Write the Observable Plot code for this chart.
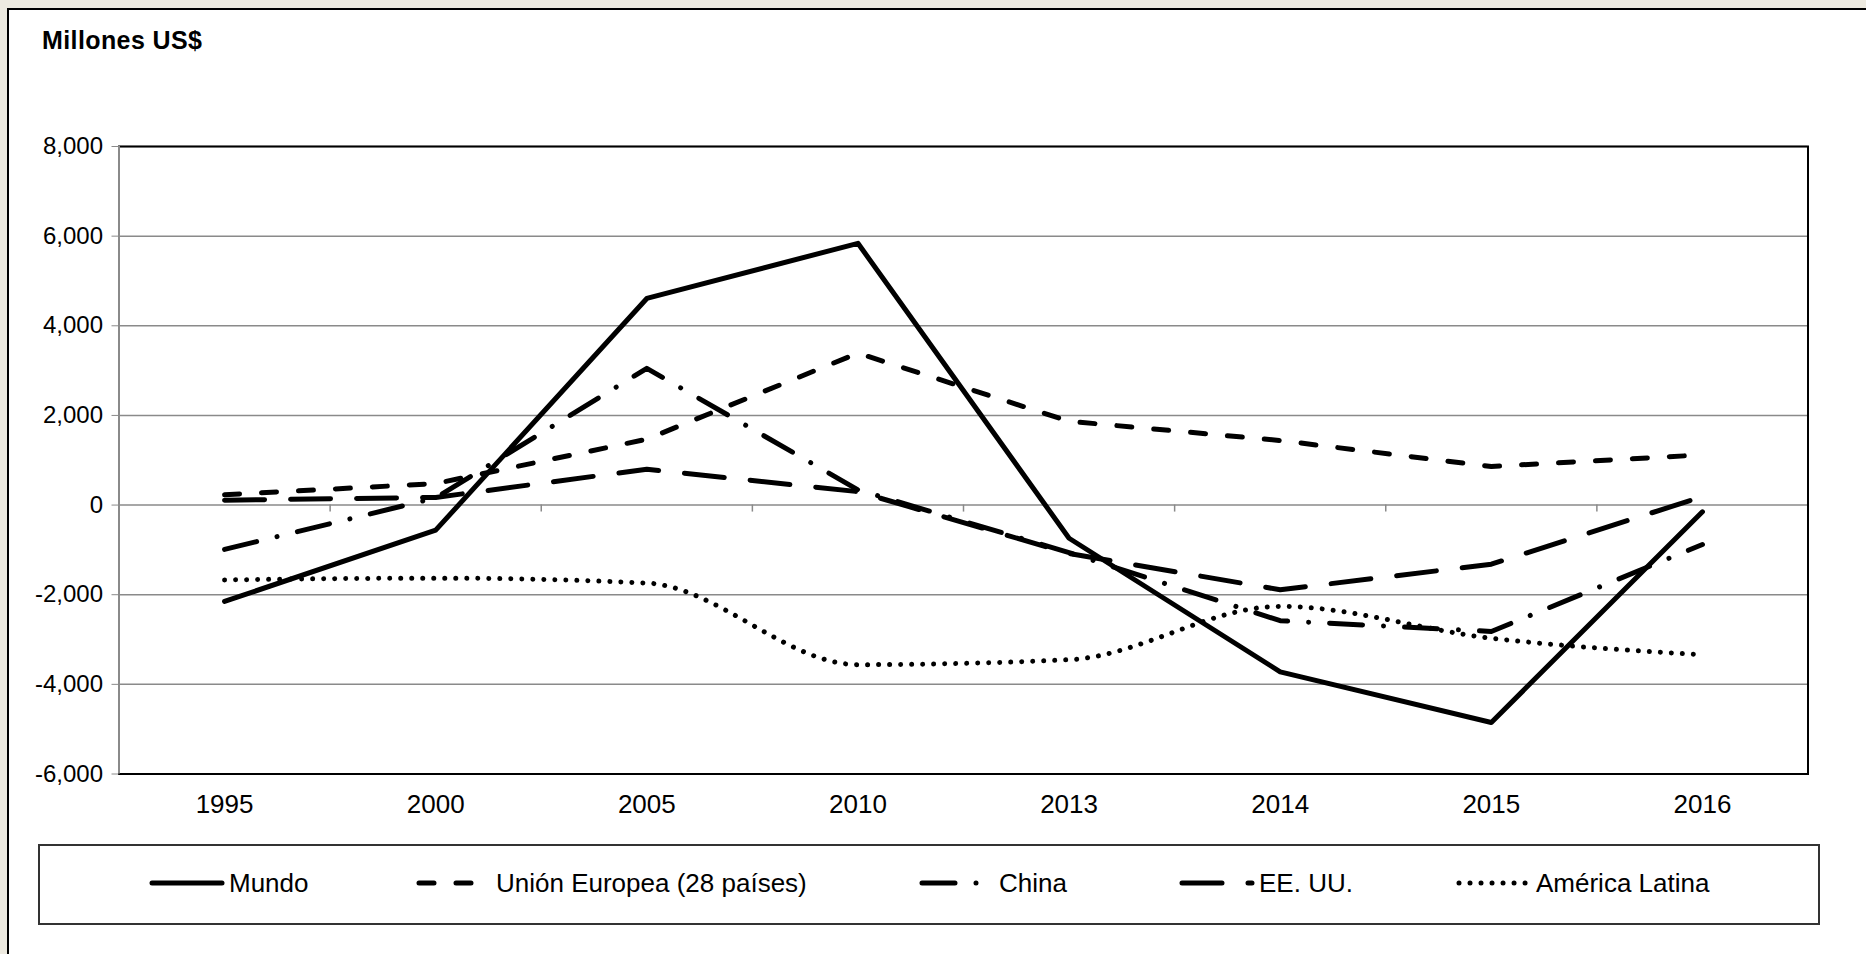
<!DOCTYPE html>
<html><head><meta charset="utf-8">
<script src="https://cdn.jsdelivr.net/npm/d3@7"></script>
<script src="https://cdn.jsdelivr.net/npm/@observablehq/plot@0.6"></script>
<style>
html,body{margin:0;padding:0;background:#EDEAE0;width:1866px;height:954px;overflow:hidden;font-family:"Liberation Sans",Arial,sans-serif;}
#page{position:absolute;left:7px;top:8px;width:1900px;height:1000px;background:#fff;border:2px solid #000;}
#title{position:absolute;left:42px;top:28px;font-size:25px;font-weight:bold;letter-spacing:0.4px;line-height:25px;color:#000;white-space:nowrap}
#chart{position:absolute;left:0;top:110px}
#legendbox{position:absolute;left:38px;top:844px;width:1778px;height:77px;border:2px solid #333;}
#legend{position:absolute;left:0;top:830px}
</style></head><body>
<div id="page"></div>
<div id="title">Millones US$</div>
<div id="chart"></div>
<div id="legendbox"></div>
<svg id="legend" width="1866" height="110"></svg>
<script>
// ---- data ----
const years = ["1995", "2000", "2005", "2010", "2013", "2014", "2015", "2016"];
const seriesNames = ["Mundo", "Unión Europea (28 países)", "China", "EE. UU.", "América Latina"];
const mundo = [-2150, -560, 4610, 5840, -740, -3720, -4850, -150];
const ue = [230, 480, 1470, 3390, 1870, 1440, 860, 1120];
const china = [-990, 160, 3050, 340, -1060, -2580, -2820, -880];
const eeuu = [110, 170, 800, 300, -1080, -1890, -1320, 190];
const americaLatina = [-1670, -1630, -1740, -3560, -3450, -2260, -2970, -3340];
const yTicks = [-6000, -4000, -2000, 0, 2000, 4000, 6000, 8000];

// ---- styles ----
const seriesValues = [mundo, ue, china, eeuu, americaLatina];
const seriesStyle = [
  {dash: null, curve: "linear"},
  {dash: "15,22", curve: "linear"},
  {dash: "33,21,0.01,21", curve: "linear"},
  {dash: "40,26", curve: "linear"},
  {dash: "0.01,11", curve: "monotone-x"}
];
const rows = seriesNames.flatMap((name, s) =>
  years.map((yr, i) => ({series: name, s, i, year: yr, value: seriesValues[s][i]})));

const W = 1866, H = 720, mL = 118.5, mR = 58.5, mT = 36, mB = 56.5;
const pxPerUnit = (H - mT - mB) / (yTicks[yTicks.length - 1] - yTicks[0]);
const tickLen = 7 / pxPerUnit;
const bounds = d3.range(years.length + 1).map(k => k - 0.5);
const gridColor = "#8a8a8a";

const lineMarks = seriesNames.map((name, s) => Plot.line(rows.filter(r => r.s === s), {
  x: "i", y: "value", stroke: "#000", strokeWidth: 5,
  strokeDasharray: seriesStyle[s].dash || undefined,
  strokeLinecap: "round", strokeLinejoin: "round",
  curve: seriesStyle[s].curve
}));

const chart = Plot.plot({
  width: W, height: H,
  marginLeft: mL, marginRight: mR, marginTop: mT, marginBottom: mB,
  style: {fontFamily: "'Liberation Sans', Arial, sans-serif", background: "transparent", color: "#000", overflow: "visible"},
  x: {type: "linear", domain: [-0.5, years.length - 0.5]},
  y: {type: "linear", domain: [yTicks[0], yTicks[yTicks.length - 1]]},
  marks: [
    Plot.ruleY(yTicks, {stroke: gridColor, strokeWidth: 1.5}),
    Plot.ruleX(bounds, {y1: 0, y2: -tickLen, stroke: gridColor, strokeWidth: 1.5}),
    Plot.frame({stroke: "#000", strokeWidth: 2}),
    Plot.ruleX([-0.5], {stroke: gridColor, strokeWidth: 2}),
    Plot.axisY({ticks: yTicks, tickFormat: d => d.toLocaleString("en-US"), tickSize: 7, tickPadding: 9,
      fontSize: 24, stroke: gridColor, fill: "#000", label: null}),
    Plot.axisX({ticks: d3.range(years.length), tickFormat: i => years[i], tickSize: 0, tickPadding: 21,
      fontSize: 26, fill: "#000", label: null}),
    ...lineMarks
  ]
});
document.getElementById("chart").appendChild(chart);

// ---- legend ----
const legendX = [152, 419, 922, 1182, 1459];
const lg = d3.select("#legend");
seriesNames.forEach((name, s) => {
  const x0 = legendX[s];
  const ln = lg.append("line")
    .attr("x1", x0).attr("x2", x0 + 70).attr("y1", 53).attr("y2", 53)
    .attr("stroke", "#000").attr("stroke-width", 5)
    .attr("stroke-linecap", "round");
  if (seriesStyle[s].dash) ln.attr("stroke-dasharray", seriesStyle[s].dash);
  lg.append("text").attr("x", x0 + 77).attr("y", 62)
    .attr("font-family", "'Liberation Sans', Arial, sans-serif")
    .attr("font-size", 26).attr("fill", "#000").text(name);
});
</script>
</body></html>
